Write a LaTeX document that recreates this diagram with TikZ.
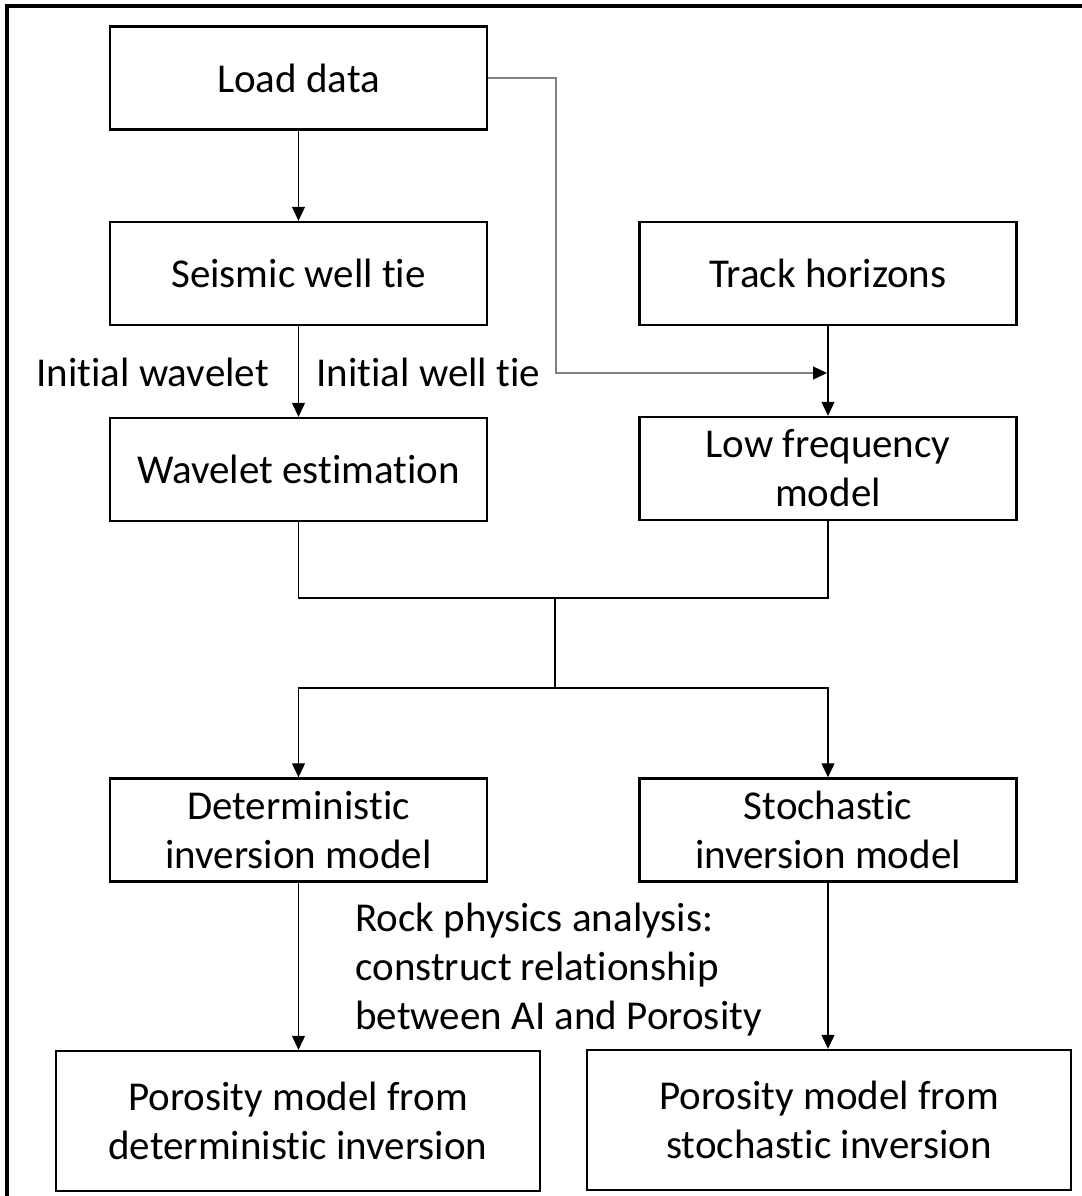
\documentclass[tikz,border=0pt]{standalone}
\usepackage{fontspec}
\setmainfont[Ligatures={NoCommon}]{Carlito}
\usetikzlibrary{arrows.meta}
\begin{document}
\begin{tikzpicture}[x=0.5pt,y=-0.5pt,
  box/.style={draw=black,line width=1.2pt,rectangle,minimum width=188.5pt,minimum height=51.5pt,align=center,inner sep=0pt,font=\fontsize{20.5}{24.5}\selectfont},
  bigbox/.style={box,minimum width=242pt,minimum height=70pt},
  lbl/.style={inner sep=0pt,font=\fontsize{20.5}{24.5}\selectfont},
  conn/.style={line width=0.6pt,draw=black},
  arr/.style={conn,-{Triangle[length=7pt,width=6.5pt,color=black]}}]
\useasboundingbox (0,0) rectangle (1082,1196);
\clip (0,0) rectangle (1082,1196);
\draw[line width=1.6pt] (7,6) rectangle (1100,1220);

\node[box] (load) at (298.5,78) {Load data};
\node[box] (seis) at (298.5,273.5) {Seismic well tie};
\node[box] (track) at (828,273.5) {Track horizons};
\node[box] (wave) at (298.5,469.5) {Wavelet estimation};
\node[box] (low) at (828,468.5) {Low frequency\\model};
\node[box] (det) at (298.5,830) {Deterministic\\inversion model};
\node[box] (sto) at (828,830) {Stochastic\\inversion model};
\node[bigbox] (pdet) at (298,1121) {Porosity model from\\deterministic inversion};
\node[bigbox] (psto) at (829,1120) {Porosity model from\\stochastic inversion};

\node[lbl,anchor=base west] (iw) at (36,386) {Initial wavelet};
\node[lbl,anchor=base west] (iwt) at (316,386) {Initial well tie};
\node[lbl,anchor=north west,align=left] (rock) at (355,903) {Rock physics analysis:\\construct relationship\\between AI and Porosity};

\coordinate (lt) at (556,373);
\coordinate (lend) at (827,373);
\coordinate (m1) at (555,598);
\coordinate (m2) at (555,688);

\draw[arr] (load.south) -- (seis.north);
\draw[arr] (seis.south) -- (wave.north);
\draw[arr] (track.south) -- (low.north);
\draw[arr,draw=black!50] (load.east) -| (lt) -- (lend);
\draw[conn] (wave.south) |- (m1) -| (low.south);
\draw[conn] (m1) -- (m2);
\draw[arr] (m2) -| (det.north);
\draw[arr] (m2) -| (sto.north);
\draw[arr] (det.south) -- (det.south |- pdet.north);
\draw[arr] (sto.south) -- (sto.south |- psto.north);
\end{tikzpicture}
\end{document}
